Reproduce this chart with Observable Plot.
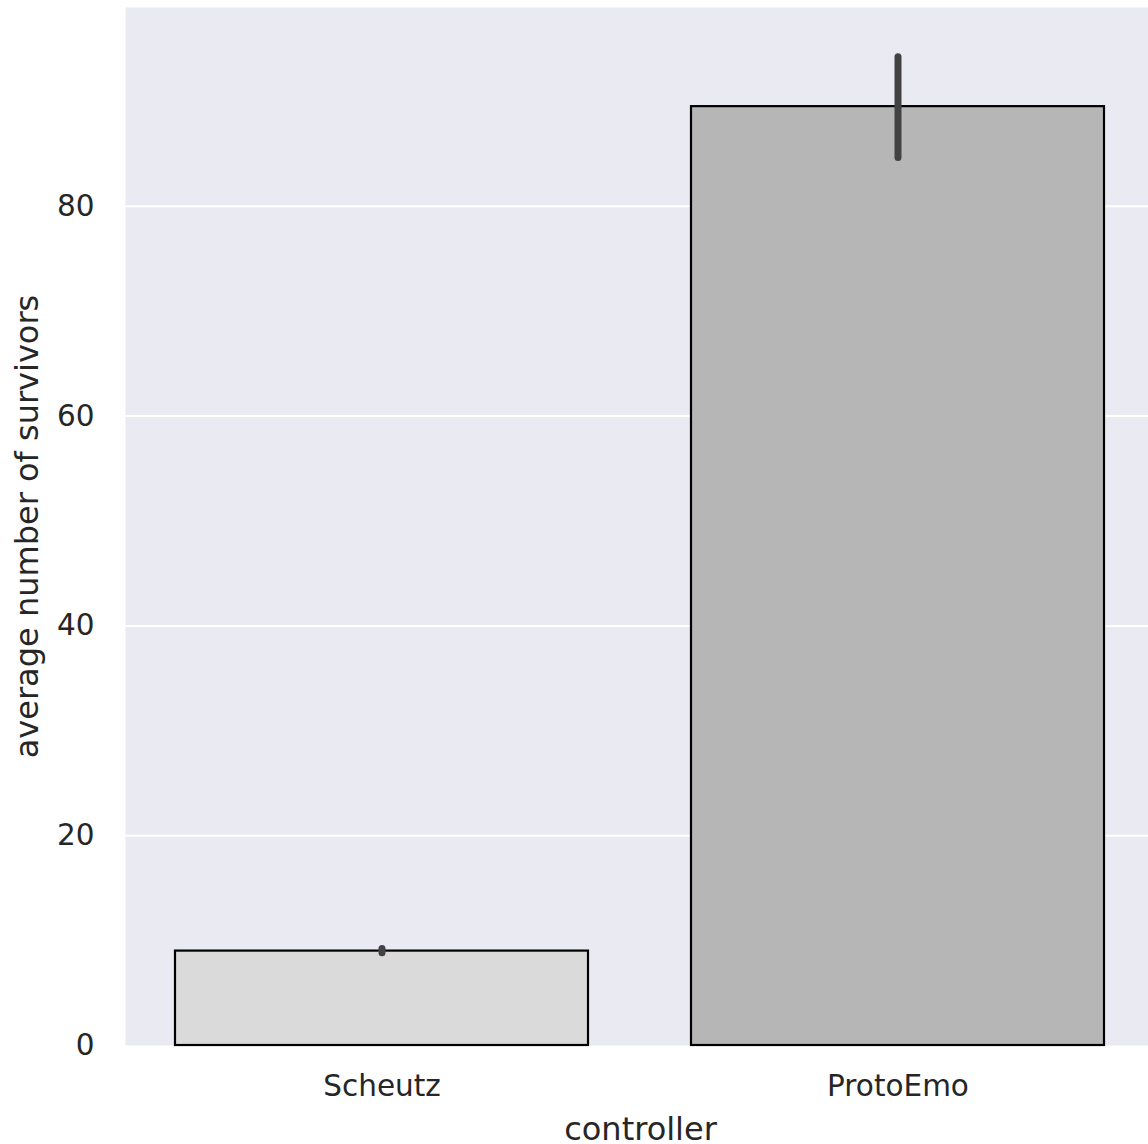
<!DOCTYPE html>
<html>
<head>
<meta charset="utf-8">
<script src="https://cdn.jsdelivr.net/npm/d3@7"></script>
<script src="https://cdn.jsdelivr.net/npm/@observablehq/plot@0.6"></script>
<style>
  html, body { margin: 0; padding: 0; background: #ffffff; overflow: hidden; }
  #chart svg { display: block; }
</style>
</head>
<body>
<div id="chart"></div>
<script>
// ---- data ----
const controllers = ["Scheutz", "ProtoEmo"];
const meanSurvivors = [9.0, 89.5];
const ciLow = [8.8, 84.6];
const ciHigh = [9.2, 94.2];
const yTicks = [0, 20, 40, 60, 80];
const xLabel = "controller";
const yLabel = "average number of survivors";

// ---- styles ----
const barFills = ["#dadada", "#b6b6b6"];
const textColor = "#262626";
const font = "DejaVu Sans, sans-serif";

const rows = controllers.map((c, i) => ({
  controller: c, mean: meanSurvivors[i], lo: ciLow[i], hi: ciHigh[i]
}));

const W = 1148, H = 1144;
const chart = Plot.plot({
  width: W,
  height: H,
  marginLeft: 125,
  marginRight: 0,
  marginTop: 7,
  marginBottom: 99,
  style: { fontFamily: font, color: textColor, background: "transparent", overflow: "visible" },
  x: { domain: controllers, range: [122.6, 1155.2], paddingInner: 0.2, paddingOuter: 0.1 },
  y: { domain: [0, 98.95] },
  color: { domain: controllers, range: barFills },
  marks: [
    Plot.frame({ fill: "#eaeaf2", stroke: null }),
    Plot.gridY(yTicks.filter(t => t > 0), { stroke: "#ffffff", strokeOpacity: 1, strokeWidth: 2 }),
    Plot.barY(rows, { x: "controller", y: "mean", fill: "controller", stroke: "#000000", strokeWidth: 2.2 }),
    Plot.ruleX(rows, { x: "controller", y1: "lo", y2: "hi", stroke: "#424242", strokeWidth: 7, strokeLinecap: "round" }),
    Plot.axisY({ ticks: yTicks, tickSize: 0, tickPadding: 31, fontSize: 29.5, label: null, tickFormat: d => String(d) }),
    Plot.axisX({ tickSize: 0, tickPadding: 30, fontSize: 29.5, label: null }),
    Plot.text([yLabel], { text: d => d, frameAnchor: "left", textAnchor: "middle", dx: -98, rotate: -90, fontSize: 32, fill: textColor }),
    Plot.text([xLabel], { text: d => d, frameAnchor: "bottom", textAnchor: "middle", dx: 3.5, dy: 94, lineAnchor: "bottom", fontSize: 32, fill: textColor })
  ]
});
document.getElementById("chart").appendChild(chart);
</script>
</body>
</html>
